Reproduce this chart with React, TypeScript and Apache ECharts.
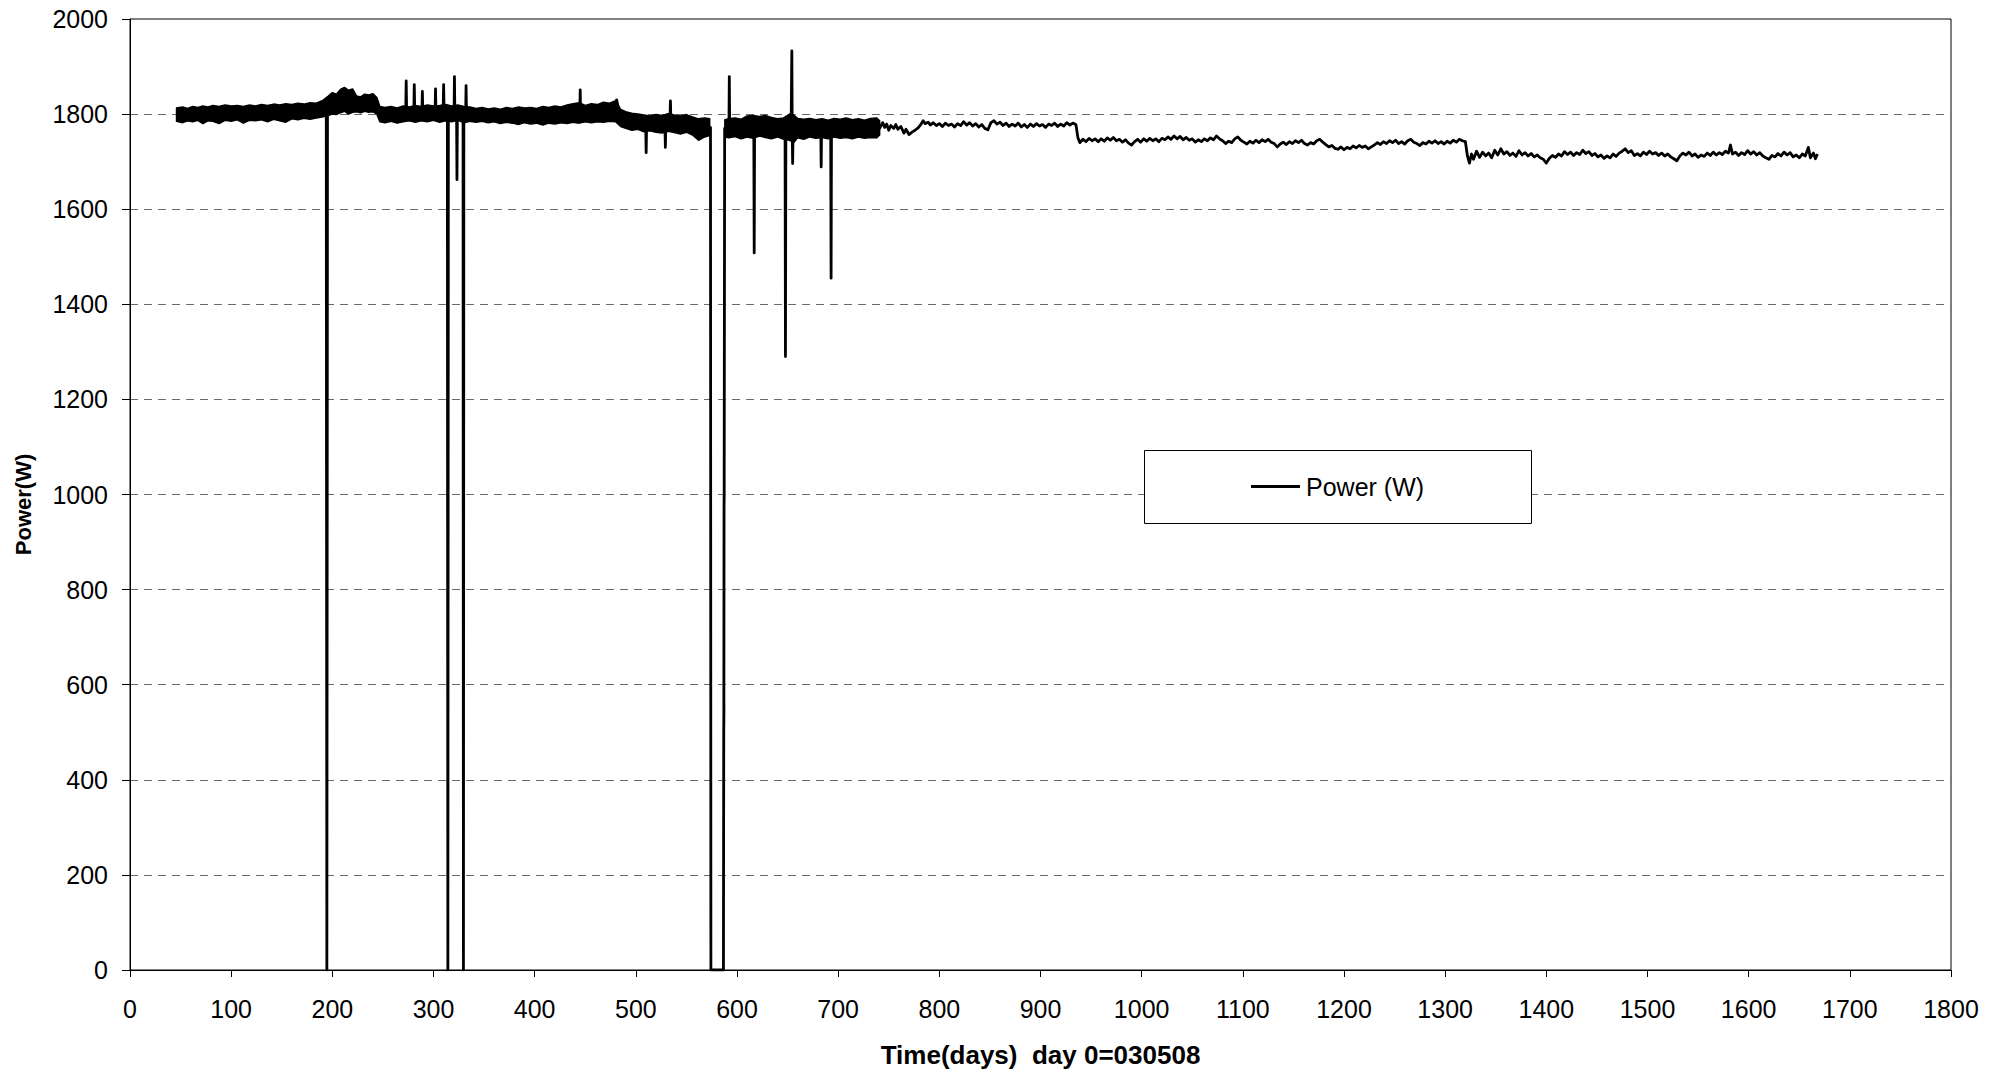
import React, { useEffect, useRef } from 'react';
import * as echarts from 'echarts';

// Axis ranges (days, watts)
const xRange = { min: 0, max: 1800, step: 100 };
const yRange = { min: 0, max: 2000, step: 200 };

const seriesName = 'Power (W)';
const xTitle = 'Time(days)  day 0=030508';
const yTitle = 'Power(W)';

// Envelope of the dense, noisy record (days 46–741)
const bandDays = [
  46, 52, 57, 62, 67, 72, 77, 82, 88, 94,
  100, 106, 112, 118, 124, 130, 136, 142, 148, 154,
  160, 166, 172, 178, 184, 190, 196, 200, 204, 208,
  212, 216, 220, 224, 228, 232, 236, 240, 244, 247,
  252, 258, 264, 270, 276, 282, 288, 294, 300, 306,
  312, 318, 324, 330, 336, 342, 348, 354, 360, 366,
  372, 378, 384, 390, 396, 402, 408, 414, 420, 426,
  432, 438, 444, 450, 456, 462, 468, 474, 480, 485,
  490, 496, 502, 508, 514, 520, 526, 532, 538, 544,
  550, 556, 562, 568, 573,
  588, 592, 598, 604, 610, 616, 622, 628, 634, 640,
  646, 652, 656, 660, 666, 672, 678, 684, 690, 696,
  702, 708, 714, 720, 726, 732, 738, 741,
];
const bandHigh = [
  1813, 1815, 1812, 1816, 1814, 1817, 1815, 1818, 1816, 1819,
  1817, 1818, 1816, 1819, 1817, 1820, 1818, 1821, 1819, 1822,
  1820, 1823, 1821, 1824, 1823, 1828, 1838, 1845, 1842, 1852,
  1856, 1850, 1853, 1838, 1836, 1842, 1840, 1843, 1835, 1816,
  1814, 1816, 1813, 1817, 1815, 1818, 1816, 1819, 1817, 1818,
  1820, 1817, 1819, 1816, 1815, 1812, 1814, 1811, 1813, 1810,
  1814, 1812, 1815, 1813, 1814, 1812, 1816, 1814, 1817, 1815,
  1819, 1822, 1824, 1818, 1822, 1820, 1825, 1823, 1828, 1810,
  1805, 1802, 1800, 1798, 1796, 1799, 1797, 1801, 1798, 1796,
  1799, 1794, 1790, 1792, 1790,
  1788, 1790, 1792, 1789, 1796, 1797, 1795, 1797, 1793, 1790,
  1792, 1800, 1798, 1791, 1789, 1791, 1788, 1790, 1787, 1791,
  1789, 1792, 1788, 1790, 1787, 1791, 1792, 1786,
];
const bandLow = [
  1785, 1782, 1786, 1784, 1787, 1780, 1786, 1785, 1780, 1787,
  1785, 1788, 1781, 1787, 1786, 1788, 1784, 1789, 1786, 1783,
  1790, 1788, 1791, 1789, 1792, 1794, 1797, 1800, 1799, 1803,
  1806, 1800, 1804, 1805, 1803, 1806, 1804, 1805, 1800, 1784,
  1782, 1785, 1781, 1784, 1786, 1783, 1786, 1784, 1787, 1783,
  1786, 1784, 1787, 1782, 1785, 1783, 1785, 1782, 1784, 1780,
  1783, 1781, 1778, 1782, 1779, 1781, 1777, 1781, 1779, 1782,
  1780, 1783, 1781, 1784, 1782, 1784, 1783, 1785, 1784, 1774,
  1770, 1766, 1768, 1763, 1765, 1762, 1760, 1764, 1761, 1758,
  1762, 1756, 1745, 1752, 1755,
  1752, 1750, 1753, 1748, 1752, 1749, 1754, 1751, 1748, 1752,
  1747, 1745, 1740, 1750, 1747, 1752, 1749, 1751, 1748, 1752,
  1749, 1751, 1748, 1752, 1749, 1751, 1750, 1756,
];

// Main trace through the dense part, with its dropouts and spikes [day, W]
const earlyTrace: [number, number][] = [
  [47, 1799], [100, 1801], [150, 1803], [194, 1808], [194.6, 0], [195.2, 1812],
  [212, 1828], [244, 1820], [248, 1800], [272.5, 1800], [273, 1870], [273.5, 1800],
  [280.5, 1800], [281, 1862], [281.5, 1800], [288.5, 1801], [289, 1848], [289.5, 1801],
  [301.5, 1801], [302, 1853], [302.5, 1801], [309.5, 1802], [310, 1862], [310.5, 1802],
  [313.7, 1800], [314.2, 0], [314.7, 1801], [320.3, 1801], [320.7, 1879], [321.1, 1801],
  [322.8, 1800], [323.2, 1662], [323.6, 1800], [329.2, 1800], [329.6, 0], [330, 1801],
  [331.8, 1801], [332.2, 1860], [332.6, 1800], [444.6, 1800], [445, 1851], [445.4, 1800],
  [480.5, 1805], [481, 1830], [485, 1790], [509.7, 1782], [510.2, 1719], [510.7, 1782],
  [528.7, 1781], [529.2, 1730], [529.7, 1781], [533.7, 1781], [534.2, 1828], [534.7, 1781],
  [573.8, 1772], [574.2, 0], [586.6, 0], [586.9, 510], [587.1, 560], [587.0, 515],
  [587.2, 980], [587.4, 1030], [587.3, 985], [587.8, 1770], [592, 1770], [592.4, 1879],
  [592.8, 1770], [616.6, 1772], [617, 1508], [617.4, 1772], [647.5, 1770], [647.9, 1290],
  [648.3, 1770], [653.5, 1775], [654.2, 1933], [654.6, 1760], [655, 1696], [655.5, 1770],
  [682.8, 1770], [683.2, 1689], [683.6, 1770], [692.6, 1770], [693, 1455], [693.4, 1770],
  [741, 1770],
];

// Sparser record, days 744–1320 [day, W]
const midTrace: [number, number][] = [
  [744, 1782], [746, 1772], [748, 1779], [750, 1766], [752, 1776], [755, 1770], [757, 1778],
  [759, 1768], [762, 1774], [765, 1760], [767, 1768], [770, 1757], [773, 1762], [776, 1766],
  [779, 1771], [782, 1779], [784, 1786], [786, 1780], [789, 1783], [791, 1777], [794, 1782],
  [797, 1776], [800, 1780], [803, 1774], [806, 1781], [809, 1776], [812, 1779], [815, 1773],
  [818, 1780], [821, 1776], [824, 1784], [827, 1777], [830, 1782], [833, 1775], [836, 1780],
  [839, 1773], [842, 1778], [845, 1770], [848, 1767], [851, 1782], [854, 1786], [857, 1779],
  [860, 1783], [863, 1776], [866, 1781], [869, 1774], [872, 1779], [875, 1775], [878, 1781],
  [881, 1773], [884, 1778], [887, 1772], [890, 1779], [893, 1774], [896, 1780], [899, 1775],
  [902, 1778], [905, 1772], [908, 1779], [911, 1776], [914, 1781], [917, 1774], [920, 1779],
  [923, 1775], [926, 1782], [929, 1777], [932, 1781], [935, 1778], [937, 1750], [939, 1740],
  [942, 1747], [945, 1742], [948, 1749], [951, 1744], [954, 1748], [957, 1742], [960, 1748],
  [963, 1743], [966, 1750], [969, 1745], [972, 1751], [975, 1744], [978, 1747], [981, 1741],
  [984, 1746], [987, 1739], [990, 1735], [993, 1742], [996, 1747], [999, 1741], [1002, 1748],
  [1005, 1743], [1008, 1749], [1011, 1744], [1014, 1748], [1017, 1742], [1020, 1749], [1023, 1746],
  [1026, 1752], [1029, 1747], [1032, 1754], [1035, 1748], [1038, 1753], [1041, 1746], [1044, 1751],
  [1047, 1745], [1050, 1748], [1053, 1741], [1056, 1746], [1059, 1742], [1062, 1748], [1065, 1744],
  [1068, 1750], [1071, 1746], [1074, 1754], [1077, 1748], [1080, 1744], [1083, 1738], [1086, 1743],
  [1089, 1740], [1092, 1748], [1095, 1752], [1098, 1745], [1101, 1741], [1104, 1737], [1107, 1743],
  [1110, 1739], [1113, 1745], [1116, 1740], [1119, 1746], [1122, 1742], [1125, 1747], [1128, 1741],
  [1131, 1738], [1134, 1731], [1137, 1737], [1140, 1741], [1143, 1736], [1146, 1742], [1149, 1738],
  [1152, 1744], [1155, 1740], [1158, 1745], [1161, 1738], [1164, 1735], [1167, 1740], [1170, 1737],
  [1173, 1744], [1176, 1747], [1179, 1741], [1182, 1736], [1185, 1731], [1188, 1734], [1191, 1728],
  [1194, 1726], [1197, 1731], [1200, 1725], [1203, 1730], [1206, 1727], [1209, 1733], [1212, 1729],
  [1215, 1734], [1218, 1730], [1221, 1733], [1224, 1727], [1227, 1731], [1230, 1735], [1233, 1740],
  [1236, 1736], [1239, 1742], [1242, 1738], [1245, 1744], [1248, 1740], [1251, 1745], [1254, 1738],
  [1257, 1742], [1260, 1737], [1263, 1744], [1266, 1747], [1269, 1741], [1272, 1738], [1275, 1734],
  [1278, 1740], [1281, 1737], [1284, 1743], [1287, 1739], [1290, 1744], [1293, 1738], [1296, 1742],
  [1299, 1737], [1302, 1743], [1305, 1739], [1308, 1745], [1311, 1741], [1314, 1747], [1317, 1744],
  [1320, 1742],
];

// Record after the step down, days 1322–1668 [day, W]
const lateTrace: [number, number][] = [
  [1322, 1712], [1324, 1697], [1326, 1716], [1328, 1705], [1331, 1722], [1334, 1709], [1337, 1720],
  [1340, 1712], [1343, 1718], [1346, 1708], [1349, 1724], [1352, 1714], [1355, 1727], [1358, 1716],
  [1361, 1721], [1364, 1713], [1367, 1718], [1370, 1711], [1373, 1723], [1376, 1714], [1379, 1719],
  [1382, 1712], [1385, 1717], [1388, 1710], [1391, 1714], [1394, 1708], [1397, 1705], [1400, 1697],
  [1403, 1707], [1406, 1713], [1409, 1709], [1412, 1716], [1415, 1712], [1418, 1721], [1421, 1715],
  [1424, 1720], [1427, 1713], [1430, 1719], [1433, 1715], [1436, 1724], [1439, 1717], [1442, 1721],
  [1445, 1713], [1448, 1717], [1451, 1710], [1454, 1714], [1457, 1707], [1460, 1712], [1463, 1708],
  [1466, 1716], [1469, 1711], [1472, 1718], [1475, 1722], [1478, 1727], [1481, 1719], [1484, 1723],
  [1487, 1713], [1490, 1717], [1493, 1712], [1496, 1720], [1499, 1715], [1502, 1722], [1505, 1716],
  [1508, 1719], [1511, 1713], [1514, 1718], [1517, 1712], [1520, 1716], [1523, 1710], [1526, 1706],
  [1529, 1702], [1532, 1712], [1535, 1718], [1538, 1714], [1541, 1720], [1544, 1712], [1547, 1716],
  [1550, 1709], [1553, 1714], [1556, 1711], [1559, 1718], [1562, 1713], [1565, 1720], [1568, 1714],
  [1571, 1719], [1574, 1715], [1577, 1722], [1580, 1718], [1582, 1735], [1584, 1716], [1587, 1720],
  [1590, 1713], [1593, 1719], [1596, 1715], [1599, 1723], [1602, 1716], [1605, 1721], [1608, 1714],
  [1611, 1719], [1614, 1712], [1617, 1708], [1620, 1705], [1623, 1713], [1626, 1710], [1629, 1717],
  [1632, 1712], [1635, 1720], [1638, 1714], [1641, 1719], [1644, 1710], [1647, 1714], [1650, 1708],
  [1653, 1716], [1656, 1712], [1659, 1730], [1661, 1708], [1664, 1718], [1666, 1706], [1668, 1716],
];

const FONT = "'Liberation Sans', Arial, Helvetica, sans-serif";

// split envelope into continuous segments (the record has a gap around day 574–587)
function bandSegments() {
  const segs: { days: number[]; high: number[]; low: number[] }[] = [];
  let cur = { days: [] as number[], high: [] as number[], low: [] as number[] };
  for (let i = 0; i < bandDays.length; i++) {
    if (i > 0 && bandDays[i] - bandDays[i - 1] > 8) {
      segs.push(cur);
      cur = { days: [], high: [], low: [] };
    }
    cur.days.push(bandDays[i]);
    cur.high.push(bandHigh[i]);
    cur.low.push(bandLow[i]);
  }
  segs.push(cur);
  return segs;
}

export default function App() {
  const ref = useRef<HTMLDivElement>(null);

  useEffect(() => {
    if (!ref.current) return;
    const chart = echarts.init(ref.current, null, { renderer: 'svg' });
    const segs = bandSegments();
    const plain = (v: number) => String(v);

    const option: any = {
      animation: false,
      backgroundColor: '#ffffff',
      textStyle: { fontFamily: FONT, color: '#000' },
      grid: {
        left: 130,
        right: 55,
        top: 19,
        bottom: 100,
        show: true,
        borderColor: '#000',
        borderWidth: 1,
        backgroundColor: 'transparent',
      },
      legend: {
        data: [seriesName],
        left: 1251,
        top: 474,
        padding: 0,
        icon: 'rect',
        itemWidth: 49,
        itemHeight: 3,
        selectedMode: false,
        itemStyle: { color: '#000', borderWidth: 0 },
        textStyle: { fontSize: 25, color: '#000', fontFamily: FONT, padding: [0, 0, 0, 1] },
      },
      graphic: [
        {
          type: 'rect',
          z: 3,
          shape: { x: 1144.5, y: 450.5, width: 387, height: 73 },
          style: { fill: '#fff', stroke: '#000', lineWidth: 1 },
        },
      ],
      xAxis: {
        type: 'value',
        min: xRange.min,
        max: xRange.max,
        interval: xRange.step,
        name: xTitle,
        nameLocation: 'middle',
        nameGap: 72,
        nameTextStyle: { fontSize: 26, fontWeight: 'bold', color: '#000', fontFamily: FONT },
        axisLine: { show: true, onZero: false, lineStyle: { color: '#000', width: 1 } },
        axisTick: { show: true, inside: false, length: 7, lineStyle: { color: '#000', width: 1 } },
        axisLabel: { fontSize: 25, color: '#000', margin: 26, fontFamily: FONT, formatter: plain },
        splitLine: { show: false },
      },
      yAxis: {
        type: 'value',
        min: yRange.min,
        max: yRange.max,
        interval: yRange.step,
        name: yTitle,
        nameLocation: 'middle',
        nameGap: 96,
        nameTextStyle: {
          fontSize: 22,
          fontWeight: 'bold',
          color: '#000',
          fontFamily: FONT,
          padding: [0, 20, 0, 0],
        },
        axisLine: { show: true, onZero: false, lineStyle: { color: '#000', width: 1 } },
        axisTick: { show: true, inside: false, length: 8, lineStyle: { color: '#000', width: 1 } },
        axisLabel: { fontSize: 25, color: '#000', margin: 22, fontFamily: FONT, formatter: plain },
        splitLine: {
          show: true,
          showMinLine: false,
          showMaxLine: false,
          lineStyle: { color: '#6a6a6a', width: 1, type: [8, 6] },
        },
      },
      series: [
        {
          type: 'custom',
          name: 'band',
          silent: true,
          z: 2,
          data: segs.map((s, i) => [s.days[0], s.high[0], i]),
          encode: { x: 0, y: 1 },
          renderItem: (params: any, api: any) => {
            const s = segs[params.dataIndex];
            const pts: number[][] = [];
            for (let i = 0; i < s.days.length; i++) pts.push(api.coord([s.days[i], s.high[i]]));
            for (let i = s.days.length - 1; i >= 0; i--) pts.push(api.coord([s.days[i], s.low[i]]));
            return {
              type: 'polygon',
              shape: { points: pts },
              style: { fill: '#000', stroke: '#000', lineWidth: 1.5, lineJoin: 'round' },
            };
          },
        },
        {
          type: 'line',
          name: seriesName,
          z: 3,
          symbol: 'none',
          showSymbol: false,
          data: [...earlyTrace, ...midTrace, ...lateTrace],
          lineStyle: { color: '#000', width: 2.8, join: 'round' },
          itemStyle: { color: '#000' },
        },
      ],
    };

    chart.setOption(option);
    return () => chart.dispose();
  }, []);

  return (
    <div
      ref={ref}
      style={{ position: 'fixed', left: 0, top: 0, width: 2006, height: 1073, background: '#fff' }}
    />
  );
}
